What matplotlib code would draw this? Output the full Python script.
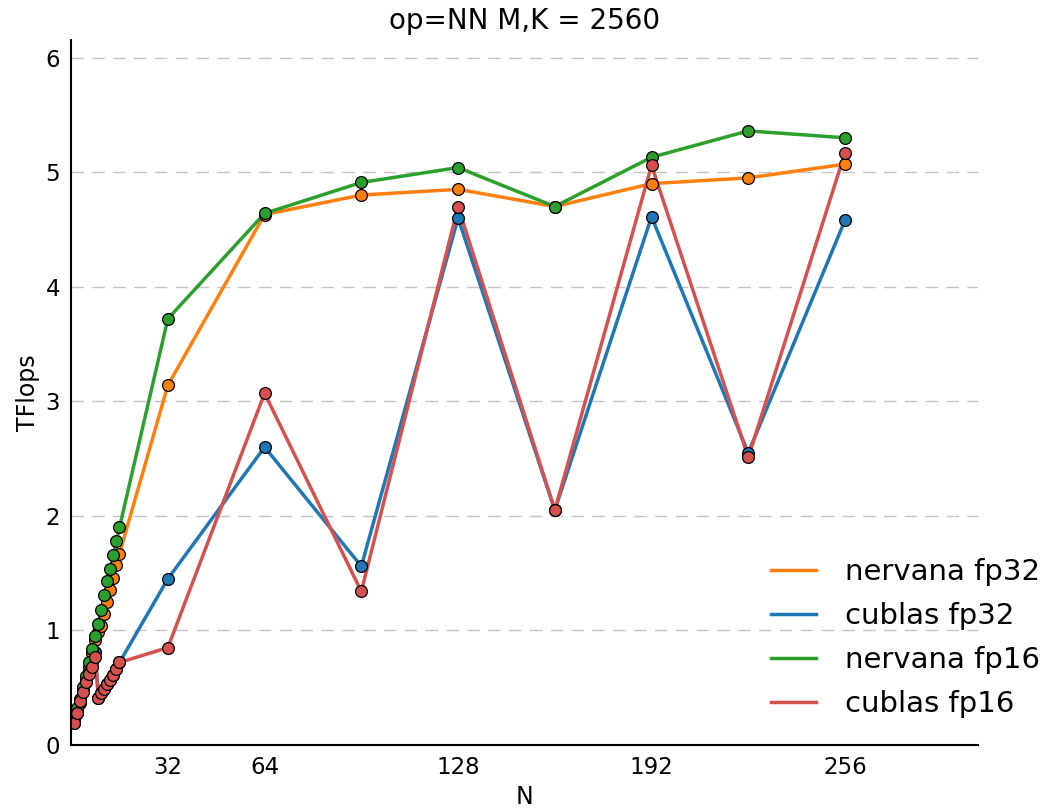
import matplotlib
matplotlib.use("Agg")
import matplotlib.pyplot as plt

# N values: 1..16, then steps of 32
n_values = list(range(1, 17)) + [32, 64, 96, 128, 160, 192, 224, 256]

nervana_fp32 = [0.20, 0.29, 0.37, 0.47, 0.57, 0.68, 0.80, 0.92,
                0.99, 1.04, 1.14, 1.25, 1.35, 1.46, 1.57, 1.67,
                3.14, 4.63, 4.80, 4.85, 4.70, 4.90, 4.95, 5.07]
cublas_fp32 = [0.19, 0.28, 0.38, 0.47, 0.56, 0.64, 0.72, 0.81,
               0.41, 0.45, 0.49, 0.53, 0.57, 0.61, 0.66, 0.72,
               1.45, 2.60, 1.56, 4.60, 2.05, 4.61, 2.55, 4.58]
nervana_fp16 = [0.23, 0.32, 0.40, 0.51, 0.60, 0.72, 0.84, 0.95,
                1.06, 1.18, 1.31, 1.43, 1.54, 1.66, 1.78, 1.90,
                3.72, 4.64, 4.91, 5.04, 4.70, 5.13, 5.36, 5.30]
cublas_fp16 = [0.19, 0.28, 0.38, 0.46, 0.55, 0.62, 0.68, 0.77,
               0.41, 0.45, 0.49, 0.53, 0.57, 0.61, 0.66, 0.72,
               0.85, 3.07, 1.34, 4.70, 2.05, 5.06, 2.51, 5.17]

series = [
    ("nervana fp32", nervana_fp32, "#ff7f0e"),
    ("cublas fp32", cublas_fp32, "#1f77b4"),
    ("nervana fp16", nervana_fp16, "#2ca02c"),
    ("cublas fp16", cublas_fp16, "#d65050"),
]

xticks = [32, 64, 128, 192, 256]

fig = plt.figure(figsize=(10.46, 8.08), dpi=100)
ax = fig.add_axes([0.068, 0.078, 0.867, 0.872])

for label, vals, color in series:
    ax.plot(n_values, vals, color=color, linewidth=2.5, label=label)
for label, vals, color in series:
    ax.plot(n_values, vals, 'o', color=color, markersize=8.5,
            markeredgecolor='black', markeredgewidth=0.9)

ax.set_xlim(0, 300)
ax.set_ylim(0, 6.15)
ax.set_xticks(xticks)
ax.set_yticks(range(0, 7))
ax.tick_params(axis='both', length=0, labelsize=16.5, pad=8)

ax.grid(axis='y', color='#c4c4c4', linestyle=(0, (9, 6)), linewidth=1)
ax.set_axisbelow(True)

for side in ['top', 'right']:
    ax.spines[side].set_visible(False)
for side in ['left', 'bottom']:
    ax.spines[side].set_linewidth(1.5)

ax.set_title("op=NN M,K = 2560", fontsize=20, pad=8)
ax.set_xlabel("N", fontsize=17, labelpad=4)
ax.set_ylabel("TFlops", fontsize=17)

fig.legend(*ax.get_legend_handles_labels(), loc='upper left',
           bbox_to_anchor=(0.737, 0.309), bbox_transform=fig.transFigure,
           frameon=False, fontsize=21, borderpad=0, borderaxespad=0,
           handlelength=1.55, handletextpad=1.0, labelspacing=0.55)

fig.savefig("out.png", dpi=100)
